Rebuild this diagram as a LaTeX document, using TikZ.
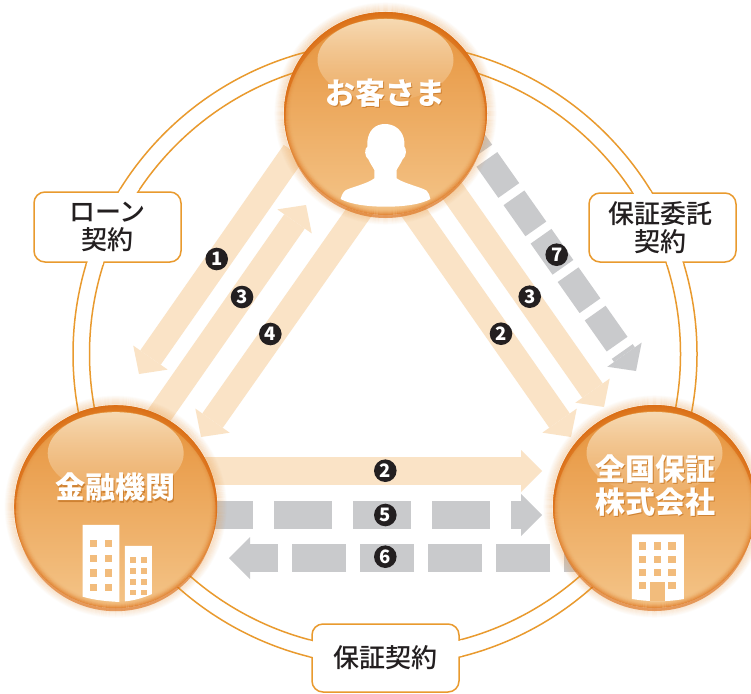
\documentclass[tikz,border=0pt]{standalone}
\usepackage{fontspec}
\setmainfont{Noto Sans CJK JP}
\newfontfamily\labelfont{Noto Sans CJK JP Medium}
\usetikzlibrary{arrows.meta,fadings,calc}
\definecolor{ringc}{HTML}{E99A2E}
\definecolor{pale}{HTML}{FAE3C6}
\definecolor{greyb}{HTML}{C9CACC}
\definecolor{rim}{HTML}{D9680F}
\definecolor{orbtop}{HTML}{E6923A}
\definecolor{orbbot}{HTML}{F4C488}
\definecolor{hilite}{HTML}{F7DAB3}
\definecolor{inkc}{HTML}{231F20}
\definecolor{winc}{HTML}{F2BC7C}
\definecolor{shcol}{HTML}{CF8232}
\tikzfading[name=hlfade, top color=transparent!0, middle color=transparent!4, bottom color=transparent!85]
\newcommand\shadowed[1]{\leavevmode\rlap{\raisebox{-1.2pt}{\hspace{1.2pt}\textcolor{shcol}{#1}}}#1}
\tikzset{
  palearrow/.style={draw=pale,line width=25pt,-{Triangle[length=20pt,width=42pt,line width=0pt]}},
  palearrowh/.style={draw=pale,line width=28pt,-{Triangle[length=21pt,width=42pt,line width=0pt]}},
  greyarrow/.style={draw=greyb,line width=25.5pt,dash pattern=on 38pt off 9pt,-{Triangle[length=20pt,width=42pt,line width=0pt]}},
  greyfive/.style={draw=greyb,line width=28pt,dash pattern=on 58pt off 21pt,-{Triangle[length=21pt,width=42pt,line width=0pt]}},
  greysix/.style={draw=greyb,line width=28pt,dash pattern=on 54pt off 14pt,-{Triangle[length=21pt,width=42pt,line width=0pt]}},
  badge/.style={circle,fill=inkc,text=white,inner sep=0pt,minimum size=22.6pt,font=\fontsize{18.5}{18.5}\selectfont\bfseries},
  labelbox/.style={draw=ringc,line width=1.5pt,fill=white,rounded corners=11pt,inner sep=0pt},
  labeltext/.style={inner sep=0pt,align=center,text=inkc,font=\labelfont\fontsize{26}{28.5}\selectfont},
  orb/.style={circle,minimum size=203pt,inner sep=0pt,top color=orbtop,bottom color=orbbot},
  orbtext/.style={text=white,align=center,inner sep=0pt,font=\bfseries\fontsize{30}{33}\selectfont},
  win/.style={fill=winc},
}
\newcommand\orbdecor[1]{%
  \foreach \i in {1,...,9}{\draw[orbtop,line width=1.1pt,opacity={0.28*(1-\i/10)}] (#1) circle ({101.5+\i});}
}
\newcommand\orbface[1]{%
  \foreach \i in {0,...,6}{\draw[rim,line width=1.1pt,opacity={0.55*(1-\i/7)*(1-\i/7)}] (#1) circle ({101-\i});}
  \fill[rim,opacity=.6,even odd rule] (#1) circle (101.5pt) ([yshift=-4.5pt]#1.center) circle (100pt);
  \fill[hilite,path fading=hlfade] ([yshift=53.5pt]#1.center) ellipse (68pt and 41pt);
}
\begin{document}
\begin{tikzpicture}[x=1pt,y=-1pt]
\useasboundingbox (0,0) rectangle (751,693);
\fill[white] (0,0) rectangle (751,693);
% contract ring
\coordinate (ringc) at (385,354);
\draw[ringc,line width=1.5pt] (ringc) circle (312pt);
\draw[ringc,line width=1.5pt] (ringc) circle (295.5pt);
% arrow ends
\coordinate (a1s) at (294,152);   \coordinate (a1e) at (139,374);
\coordinate (a3s) at (151,427);   \coordinate (a3e) at (306,205);
\coordinate (a4s) at (369,198);   \coordinate (a4e) at (201,437);
\coordinate (b2s) at (404,198);   \coordinate (b2e) at (571,437);
\coordinate (b3s) at (437,169);   \coordinate (b3e) at (604,407);
\coordinate (b7s) at (459.8,121); \coordinate (b7e) at (636,371);
\coordinate (h2s) at (190,471);   \coordinate (h2e) at (542,471);
\coordinate (h5s) at (195,515);   \coordinate (h5e) at (542,515);
\coordinate (h6s) at (618,558);   \coordinate (h6e) at (229,558);
\draw[palearrow] (a1s) -- (a1e);
\draw[palearrow] (a3s) -- (a3e);
\draw[palearrow] (a4s) -- (a4e);
\draw[palearrow] (b2s) -- (b2e);
\draw[palearrow] (b3s) -- (b3e);
\draw[greyarrow] (b7s) -- (b7e);
\draw[palearrowh] (h2s) -- (h2e);
\draw[greyfive] (h5s) -- (h5e);
\draw[greysix] (h6s) -- (h6e);
% circles
\coordinate (gc1) at (385.5,113.5);
\coordinate (gc2) at (115.7,506.7);
\coordinate (gc3) at (654.5,506.5);
\orbdecor{gc1}\orbdecor{gc2}\orbdecor{gc3}
\node[orb] (cust) at (gc1) {};
\node[orb] (bank) at (gc2) {};
\node[orb] (guar) at (gc3) {};
\orbface{cust}\orbface{bank}\orbface{guar}
% person
\begin{scope}[shift={(270,0)},x=.3333pt,y=-.3333pt]
\fill[white] (345,372) .. controls (375,372) and (400,392) .. (403,425) -- (403,440)
 .. controls (410,445) and (410,470) .. (398,478) .. controls (393,490) and (385,500) .. (380,510)
 -- (380,535) .. controls (400,550) and (455,562) .. (470,572) .. controls (476,578) and (480,588) .. (481,597)
 .. controls (430,628) and (265,628) .. (212,597) .. controls (215,585) and (220,575) .. (228,570)
 .. controls (250,560) and (295,550) .. (313,535) -- (313,510) .. controls (308,500) and (300,490) .. (295,478)
 .. controls (283,470) and (283,445) .. (292,440) -- (292,425) .. controls (295,392) and (315,372) .. (345,372) -- cycle;
\end{scope}
% bank buildings
\begin{scope}[shift={(0,390)},x=.3333pt,y=-.3333pt]
\fill[white] (248,405) -- (358,405) -- (358,636) .. controls (320,634) and (280,630) .. (248,620) -- cycle;
\fill[white] (375,468) -- (456,468) -- (456,612) .. controls (430,624) and (400,632) .. (375,634) -- cycle;
\foreach \yy in {450,494,538,582}{
  \fill[win] (270,\yy) rectangle ++(22,22);
  \fill[win] (314,\yy) rectangle ++(22,22);
}
\foreach \yy in {501,534,567,599}{
  \fill[win] (390,\yy) rectangle ++(18,17);
  \fill[win] (423,\yy) rectangle ++(18,17);
}
\end{scope}
% guarantor building
\begin{scope}[shift={(500,400)},x=.3333pt,y=-.3333pt]
\fill[white] (396,403) -- (552,403) -- (552,597) .. controls (500,606) and (450,606) .. (396,597) -- cycle;
\foreach \xx in {417,461,505}{\foreach \yy in {427,468,507}{
  \fill[win] (\xx,\yy) rectangle ++(22,22);
}}
\fill[win] (417,546) rectangle ++(22,22);
\fill[win] (505,546) rectangle ++(22,22);
\fill[win] (450,546) rectangle (494,603);
\end{scope}
% circle titles
\node[orbtext] (custt) at (385.5,94) {\shadowed{お客さま}};
\node[orbtext] (bankt) at (115.5,488) {\shadowed{金融機関}};
\node[orbtext] (guart) at (655,486) {\shadowed{全国保証}\\\shadowed{株式会社}};
% label boxes
\node[labelbox,minimum width=147pt,minimum height=70pt] (boxa) at (107.5,227) {};
\node[labelbox,minimum width=147pt,minimum height=69pt] (boxb) at (662.5,227.5) {};
\node[labelbox,minimum width=147pt,minimum height=68pt] (boxc) at (385.5,658) {};
\foreach \b in {boxa,boxb,boxc}{
  \begin{scope}
    \clip ([shift={(-2pt,-2pt)}]\b.south west) rectangle ([shift={(2pt,2pt)}]\b.north east);
    \draw[white,line width=15pt] (ringc) circle (303.75pt);
  \end{scope}
}
\node[labeltext] (boxat) at (107.5,227) {ローン\\契約};
\node[labeltext] (boxbt) at (660,227.5) {保証委託\\契約};
\node[labeltext] (boxct) at (385.5,658) {保証契約};
% number badges
\node[badge] (n1) at (216.7,259) {1};
\node[badge] (n3a) at (242,297) {3};
\node[badge] (n4) at (270.3,334) {4};
\node[badge] (n7) at (556.7,254.7) {7};
\node[badge] (n3b) at (529.7,296.7) {3};
\node[badge] (n2a) at (501,333.7) {2};
\node[badge] (n2b) at (385.3,470.7) {2};
\node[badge] (n5) at (385.3,515) {5};
\node[badge] (n6) at (385.3,556.7) {6};
\end{tikzpicture}
\end{document}
